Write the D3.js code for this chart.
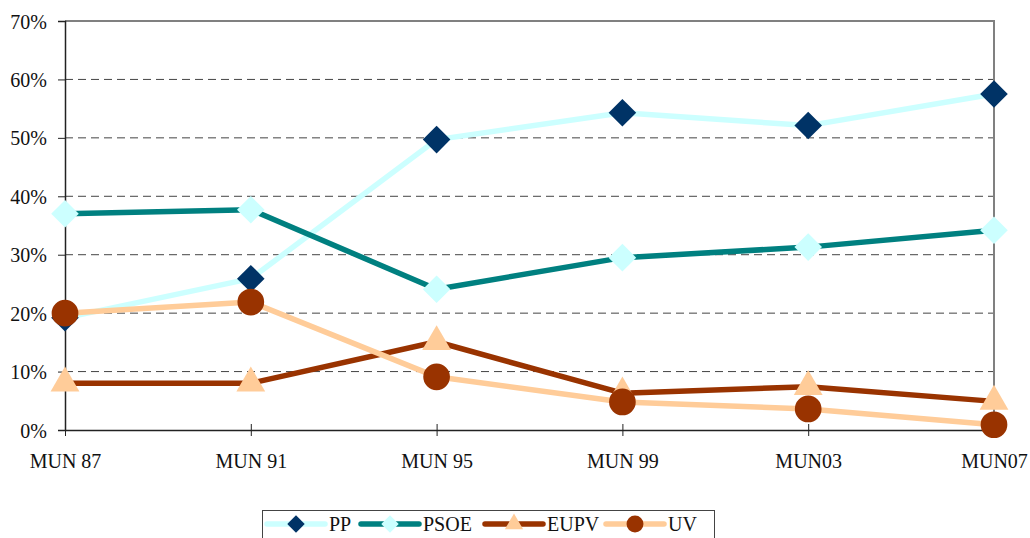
<!DOCTYPE html>
<html>
<head>
<meta charset="utf-8">
<script src="https://cdn.jsdelivr.net/npm/d3@7"></script>
<style>
  body { margin: 0; background: #fff; }
</style>
</head>
<body>
<svg id="chart"></svg>
<script>
// data
const categories = ["MUN 87", "MUN 91", "MUN 95", "MUN 99", "MUN03", "MUN07"];
const yTicks = [0, 0.1, 0.2, 0.3, 0.4, 0.5, 0.6, 0.7];
const ppValues   = [0.192, 0.259, 0.497, 0.543, 0.521, 0.575];
const psoeValues = [0.370, 0.377, 0.241, 0.295, 0.313, 0.342];
const eupvValues = [0.080, 0.080, 0.151, 0.063, 0.074, 0.049];
const uvValues   = [0.200, 0.219, 0.091, 0.048, 0.036, 0.009];

const series = [
  { name: "PP",   values: ppValues,   line: "#CCFFFF", mark: "#003366", shape: "diamond" },
  { name: "PSOE", values: psoeValues, line: "#008080", mark: "#CCFFFF", shape: "diamond" },
  { name: "EUPV", values: eupvValues, line: "#993300", mark: "#FFCC99", shape: "triangle" },
  { name: "UV",   values: uvValues,   line: "#FFCC99", mark: "#993300", shape: "circle" }
];

const FONT = "'Liberation Serif', 'DejaVu Serif', serif";
const W = 1030, H = 538;
const plot = { left: 65, right: 994, top: 21, bottom: 430 };

const svg = d3.select("#chart").attr("width", W).attr("height", H);

const x = d3.scalePoint().domain(categories).range([plot.left, plot.right]);
const y = d3.scaleLinear().domain([0, 0.7]).range([plot.bottom, plot.top]);

// grid lines
svg.append("g")
  .selectAll("line")
  .data(yTicks.filter(t => t > 0 && t < 0.7))
  .enter().append("line")
    .attr("x1", plot.left).attr("x2", plot.right)
    .attr("y1", d => y(d)).attr("y2", d => y(d))
    .attr("stroke", "#444").attr("stroke-width", 1)
    .attr("stroke-dasharray", "8,5");

// top and right border
svg.append("path")
  .attr("d", `M${plot.left},${plot.top}H${plot.right}V${plot.bottom}`)
  .attr("fill", "none").attr("stroke", "#808080").attr("stroke-width", 2);

// axes
const yAxis = svg.append("g")
  .attr("transform", `translate(${plot.left},0)`)
  .call(d3.axisLeft(y).tickValues(yTicks).tickFormat(d3.format(".0%")).tickSize(7).tickPadding(11));
const xAxis = svg.append("g")
  .attr("transform", `translate(0,${plot.bottom})`)
  .call(d3.axisBottom(x).tickSize(6).tickPadding(18).tickSizeOuter(0));
xAxis.selectAll(".tick line").attr("y1", -6);

[yAxis, xAxis].forEach(a => {
  a.attr("font-family", FONT).attr("font-size", 20);
  a.select(".domain").attr("stroke", "#222").attr("stroke-width", 1.5);
  a.selectAll(".tick line").attr("stroke", "#222");
  a.selectAll("text").attr("fill", "#111");
});
yAxis.selectAll("text").attr("dy", "0.35em");

// markers
const markSize = { diamond: 380, triangle: 360, circle: 560 };
const symbolType = { diamond: d3.symbolSquare, triangle: d3.symbolTriangle, circle: d3.symbolCircle };

function drawMarker(g, s, cx, cy, scale) {
  const k = scale || 1;
  const sym = d3.symbol().type(symbolType[s.shape]).size(markSize[s.shape] * k);
  g.append("path")
    .attr("d", sym())
    .attr("fill", s.mark)
    .attr("transform", `translate(${cx},${cy})` + (s.shape === "diamond" ? " rotate(45)" : ""));
}

const lineGen = d3.line()
  .x((d, i) => x(categories[i]))
  .y(d => y(d));

series.forEach(s => {
  const g = svg.append("g");
  g.append("path")
    .datum(s.values)
    .attr("fill", "none")
    .attr("stroke", s.line)
    .attr("stroke-width", 5.5)
    .attr("stroke-linejoin", "round")
    .attr("d", lineGen);
  s.values.forEach((v, i) => drawMarker(g, s, x(categories[i]), y(v)));
});

// legend
const legend = svg.append("g");
legend.append("rect")
  .attr("x", 262.5).attr("y", 510.5).attr("width", 452).attr("height", 40)
  .attr("fill", "#fff").attr("stroke", "#444").attr("stroke-width", 1);

const legendX = [267, 361, 485, 606];
series.forEach((s, i) => {
  const lx = legendX[i];
  const ly = 524;
  const g = legend.append("g");
  g.append("line")
    .attr("x1", lx).attr("x2", lx + 58)
    .attr("y1", ly).attr("y2", ly)
    .attr("stroke", s.line).attr("stroke-width", 5.5)
    .attr("stroke-linecap", "round");
  drawMarker(g, s, lx + 29, ly, 0.4);
  g.append("text")
    .attr("x", lx + 62).attr("y", ly + 7)
    .attr("font-family", FONT)
    .attr("font-size", 20)
    .attr("fill", "#111")
    .text(s.name);
});
</script>
</body>
</html>
